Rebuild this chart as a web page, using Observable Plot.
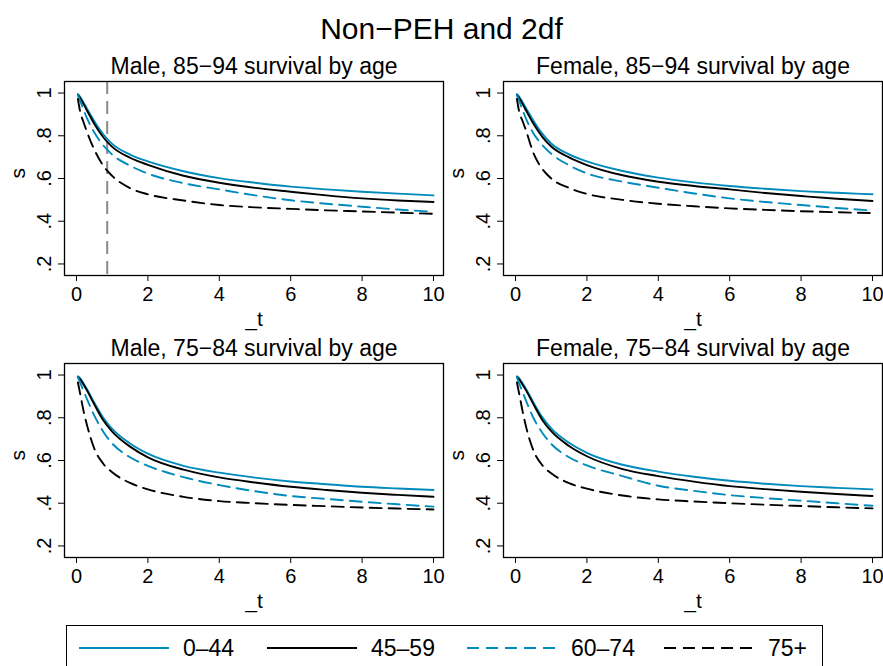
<!DOCTYPE html>
<html>
<head>
<meta charset="utf-8">
<script src="https://cdn.jsdelivr.net/npm/d3@7"></script>
<script src="https://cdn.jsdelivr.net/npm/@observablehq/plot@0.6"></script>
<style>
  html, body { margin: 0; padding: 0; background: #fff; overflow: hidden; }
  #wrap { position: relative; width: 883px; height: 666px; background: #fff; font-family: "Liberation Sans", Arial, sans-serif; }
  #title { position: absolute; left: 0; top: 14px; width: 883px; text-align: center; font-size: 30px; line-height: 1; color: #000; }
  .pnl { position: absolute; }
  #legend { position: absolute; left: 66px; top: 625px; }
</style>
</head>
<body>
<div id="wrap">
  <div id="title">Non−PEH and 2df</div>
  <div class="pnl" id="p0" style="left:0px;top:50px"></div>
  <div class="pnl" id="p1" style="left:439px;top:50px"></div>
  <div class="pnl" id="p2" style="left:0px;top:332px"></div>
  <div class="pnl" id="p3" style="left:439px;top:332px"></div>
  <div id="legend"></div>
</div>
<script>
// ---- data ----
const tGrid = [0.04, 0.1, 0.2, 0.3, 0.5, 0.75, 1, 1.5, 2, 3, 4, 5, 6, 7, 8, 9, 10];
const seriesLabels = ["0–44", "45–59", "60–74", "75+"];
const panelTitles = ["Male, 85−94 survival by age", "Female, 85−94 survival by age",
                     "Male, 75−84 survival by age", "Female, 75−84 survival by age"];
const xTicks = [0, 2, 4, 6, 8, 10];
const yTicks = [0.2, 0.4, 0.6, 0.8, 1];
const vlineT = [0.86];

// Male, 85-94
const m85_044  = [0.995, 0.982, 0.955, 0.925, 0.868, 0.807, 0.762, 0.712, 0.68, 0.634, 0.602, 0.58, 0.562, 0.549, 0.538, 0.529, 0.521];
const m85_4559 = [0.99, 0.977, 0.948, 0.916, 0.855, 0.793, 0.748, 0.697, 0.664, 0.613, 0.58, 0.556, 0.538, 0.521, 0.507, 0.497, 0.49];
const m85_6074 = [0.99, 0.965, 0.92, 0.88, 0.815, 0.755, 0.712, 0.66, 0.623, 0.578, 0.549, 0.521, 0.498, 0.482, 0.468, 0.455, 0.444];
const m85_75   = [0.972, 0.915, 0.862, 0.815, 0.735, 0.66, 0.612, 0.555, 0.526, 0.497, 0.476, 0.465, 0.458, 0.451, 0.446, 0.44, 0.435];
// Female, 85-94
const f85_044  = [0.995, 0.983, 0.957, 0.928, 0.872, 0.81, 0.764, 0.713, 0.68, 0.635, 0.604, 0.582, 0.565, 0.552, 0.541, 0.533, 0.526];
const f85_4559 = [0.99, 0.977, 0.948, 0.917, 0.857, 0.795, 0.75, 0.699, 0.663, 0.615, 0.585, 0.565, 0.549, 0.532, 0.518, 0.505, 0.495];
const f85_6074 = [0.99, 0.965, 0.92, 0.878, 0.812, 0.757, 0.716, 0.662, 0.624, 0.585, 0.557, 0.53, 0.507, 0.49, 0.476, 0.462, 0.45];
const f85_75   = [0.972, 0.915, 0.868, 0.822, 0.72, 0.645, 0.6, 0.556, 0.528, 0.5, 0.482, 0.47, 0.46, 0.453, 0.447, 0.442, 0.438];
// Male, 75-84
const m75_044  = [0.994, 0.985, 0.96, 0.932, 0.87, 0.8, 0.748, 0.68, 0.632, 0.575, 0.543, 0.52, 0.502, 0.489, 0.477, 0.469, 0.462];
const m75_4559 = [0.99, 0.98, 0.955, 0.926, 0.862, 0.788, 0.735, 0.665, 0.615, 0.557, 0.521, 0.497, 0.477, 0.462, 0.449, 0.439, 0.43];
const m75_6074 = [0.99, 0.965, 0.925, 0.885, 0.81, 0.735, 0.68, 0.615, 0.575, 0.522, 0.485, 0.456, 0.434, 0.42, 0.407, 0.395, 0.384];
const m75_75   = [0.965, 0.915, 0.83, 0.762, 0.655, 0.585, 0.545, 0.495, 0.465, 0.43, 0.41, 0.4, 0.392, 0.386, 0.38, 0.375, 0.371];
// Female, 75-84
const f75_044  = [0.994, 0.985, 0.96, 0.933, 0.873, 0.803, 0.75, 0.683, 0.636, 0.58, 0.548, 0.524, 0.505, 0.491, 0.48, 0.472, 0.465];
const f75_4559 = [0.99, 0.98, 0.955, 0.927, 0.864, 0.79, 0.737, 0.668, 0.62, 0.56, 0.527, 0.501, 0.48, 0.466, 0.454, 0.443, 0.434];
const f75_6074 = [0.99, 0.962, 0.92, 0.878, 0.8, 0.73, 0.678, 0.615, 0.577, 0.527, 0.482, 0.458, 0.438, 0.424, 0.412, 0.4, 0.388];
const f75_75   = [0.965, 0.915, 0.83, 0.755, 0.648, 0.578, 0.54, 0.494, 0.468, 0.436, 0.418, 0.408, 0.4, 0.393, 0.387, 0.381, 0.376];

const panels = [
  [m85_044, m85_4559, m85_6074, m85_75],
  [f85_044, f85_4559, f85_6074, f85_75],
  [m75_044, m75_4559, m75_6074, m75_75],
  [f75_044, f75_4559, f75_6074, f75_75]
];

// ---- styles ----
const BLUE = "#008bbc";
const colors = [BLUE, "#000000", BLUE, "#000000"];
const dashes = [null, null, "12,7", "12,7"];
const FONT = "'Liberation Sans', Arial, sans-serif";

function tf(d) { return d === 1 ? "1" : d3.format(".1f")(d).replace(/^0/, ""); }

function makePanel(idx) {
  const series = panels[idx];
  const right = idx % 2 === 1;
  const marks = [];
  if (idx === 0) {
    marks.push(Plot.ruleX(vlineT, {stroke: "#8a8a8a", strokeWidth: 2, strokeDasharray: "13,7"}));
  }
  series.forEach((vals, i) => {
    const rows = vals.map((v, j) => ({t: tGrid[j], s: v}));
    const opts = {x: "t", y: "s", stroke: colors[i], strokeWidth: 1.9, curve: "monotone-x"};
    if (dashes[i]) opts.strokeDasharray = dashes[i];
    marks.push(Plot.line(rows, opts));
  });
  marks.push(Plot.frame({stroke: "#000", strokeWidth: 1.3}));
  marks.push(Plot.axisX({ticks: xTicks, tickSize: 6, tickPadding: 5, fontSize: 20, label: null, tickFormat: d3.format("d")}));
  marks.push(Plot.axisY({ticks: yTicks, tickSize: 6, tickPadding: 8, tickRotate: -90, fontSize: 20, label: null, tickFormat: tf}));
  marks.push(Plot.text([panelTitles[idx]], {frameAnchor: "top", dy: -8, lineAnchor: "bottom", fontSize: 23}));
  marks.push(Plot.text(["_t"], {frameAnchor: "bottom", dy: 50, lineAnchor: "bottom", fontSize: 21}));
  marks.push(Plot.text(["s"], {frameAnchor: "left", dx: -46.5, rotate: -90, lineAnchor: "middle", fontSize: 21}));
  return Plot.plot({
    width: right ? 444 : 449,
    height: 280,
    marginLeft: 64,
    marginRight: right ? 1 : 6,
    marginTop: 31,
    marginBottom: 55,
    x: {domain: [-0.336, 10.28]},
    y: {domain: [0.146, 1.054]},
    style: {background: "transparent", fontFamily: FONT, fontSize: "20px", color: "#000", overflow: "visible"},
    marks
  });
}

for (let i = 0; i < 4; i++) {
  document.getElementById("p" + i).appendChild(makePanel(i));
}

// ---- legend ----
const legW = 757, legH = 45;
const itemX = [13, 201, 401, 598];
const lsvg = d3.select("#legend").append("svg").attr("width", legW).attr("height", legH)
  .style("font-family", FONT).style("overflow", "visible");
lsvg.append("rect").attr("x", 0.5).attr("y", 0.5).attr("width", legW - 1).attr("height", legH + 10)
  .attr("fill", "#fff").attr("stroke", "#000").attr("stroke-width", 1);
seriesLabels.forEach((lab, i) => {
  const g = lsvg.append("g").attr("transform", `translate(${itemX[i]},0)`);
  g.append("line").attr("x1", 0).attr("x2", 90).attr("y1", 23).attr("y2", 23)
    .attr("stroke", colors[i]).attr("stroke-width", 1.9)
    .attr("stroke-dasharray", dashes[i] ? "12,7" : null);
  g.append("text").attr("x", 104).attr("y", 31).attr("font-size", 23).attr("fill", "#000").text(lab);
});
</script>
</body>
</html>
